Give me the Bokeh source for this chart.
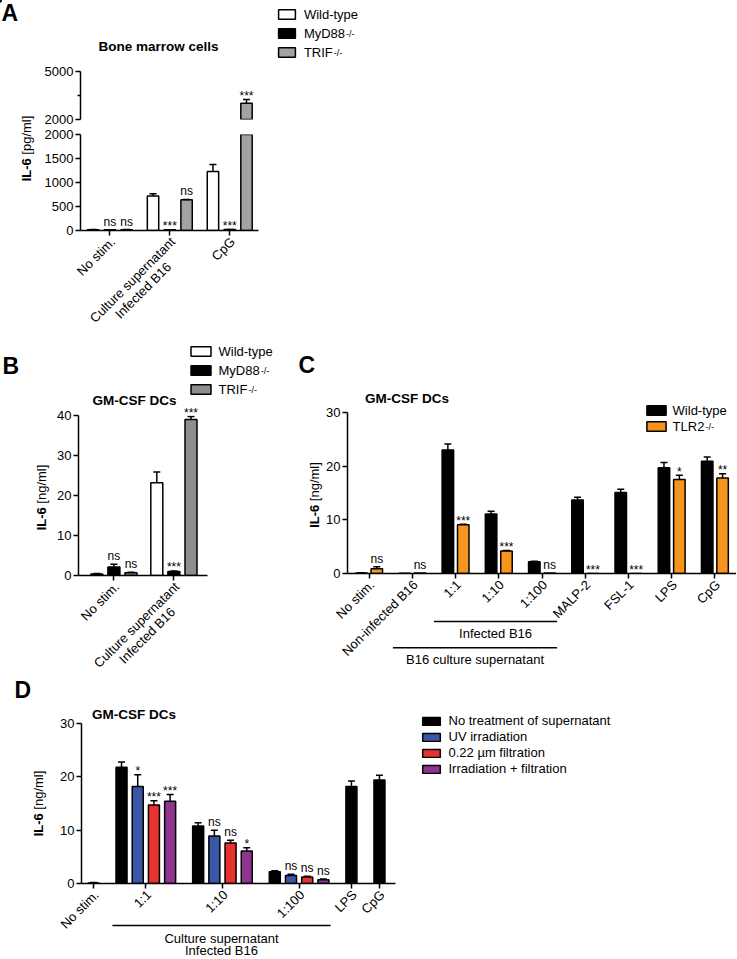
import math
from bokeh.plotting import figure
from bokeh.models import (Range1d, FixedTicker, Label, Legend, LegendItem, Arrow,
                          CustomJSTickFormatter, GridBox)
from bokeh.layouts import column, row
from bokeh.embed import file_html
from bokeh.resources import INLINE

FONT = "Liberation Sans"

# ---------------- data ----------------
# Panel A: bone marrow cells, IL-6 [pg/ml]
A_groups = ["No stim.", "Culture supernatant\nInfected B16", "CpG"]
A_names = ["Wild-type", "MyD88", "TRIF"]
A_wt = [15, 720, 1230]
A_wt_err = [6, 45, 145]
A_myd = [15, 15, 20]
A_myd_err = [3, 3, 3]
A_trif = [15, 640, 3020]
A_trif_err = [4, 6, 230]
A_sig_myd = ["ns", "***", "***"]
A_sig_trif = ["ns", "ns", "***"]
A_ticks_low = [0, 500, 1000, 1500, 2000]
A_ticks_high = [2000, 5000]
A_minor_high = [3500]

# Panel B: GM-CSF DCs, IL-6 [ng/ml]
B_groups = ["No stim.", "Culture supernatant\nInfected B16"]
B_names = ["Wild-type", "MyD88", "TRIF"]
B_wt = [0.4, 23.2]
B_wt_err = [0.1, 2.7]
B_myd = [2.1, 1.0]
B_myd_err = [0.7, 0.15]
B_trif = [0.7, 39.0]
B_trif_err = [0.1, 0.75]
B_sig_myd = ["ns", "***"]
B_sig_trif = ["ns", "***"]
B_ticks = [0, 10, 20, 30, 40]

# Panel C: GM-CSF DCs, wild-type vs TLR2-/-
C_groups = ["No stim.", "Non-infected B16", "1:1", "1:10", "1:100",
            "MALP-2", "FSL-1", "LPS", "CpG"]
C_names = ["Wild-type", "TLR2"]
C_wt = [0.1, 0.05, 23.0, 11.1, 2.2, 13.7, 15.1, 19.7, 20.9]
C_wt_err = [0.05, 0.0, 1.15, 0.5, 0.1, 0.5, 0.6, 1.0, 0.8]
C_tlr2 = [0.9, 0.1, 9.1, 4.2, 0.1, 0.0, 0.0, 17.5, 17.8]
C_tlr2_err = [0.35, 0.0, 0.1, 0.1, 0.0, 0.0, 0.0, 0.8, 0.8]
C_sig = ["ns", "ns", "***", "***", "ns", "***", "***", "*", "**"]
C_ticks = [0, 10, 20, 30]
C_brackets = [("Infected B16", "1:1", "1:100"),
              ("B16 culture supernatant", "Non-infected B16", "1:100")]

# Panel D: supernatant treatments
D_groups = ["No stim.", "1:1", "1:10", "1:100", "LPS", "CpG"]
D_treated = ["1:1", "1:10", "1:100"]
D_names = ["No treatment of supernatant", "UV irradiation",
           "0.22 µm filtration", "Irradiation + filtration"]
D_none = [0.1, 21.8, 10.8, 2.2, 18.2, 19.4]
D_none_err = [0.1, 1.0, 0.6, 0.2, 1.0, 0.9]
D_uv = [18.2, 8.9, 1.5]
D_uv_err = [2.2, 1.1, 0.25]
D_filt = [14.7, 7.6, 1.2]
D_filt_err = [0.8, 0.5, 0.15]
D_both = [15.4, 6.1, 0.7]
D_both_err = [1.3, 0.6, 0.15]
D_sig_uv = ["*", "ns", "ns"]
D_sig_filt = ["***", "ns", "ns"]
D_sig_both = ["***", "*", "ns"]
D_ticks = [0, 10, 20, 30]
D_bracket = ("Culture supernatant", "Infected B16")

# ---------------- helpers ----------------
W_REG = {' ': 278, '-': 333, '.': 278, '/': 278, '[': 278, ']': 278, ':': 278, '+': 584,
         '0': 556, '1': 556, '2': 556, '3': 556, '4': 556, '5': 556, '6': 556, '7': 556,
         '8': 556, '9': 556, 'A': 667, 'B': 667, 'C': 722, 'D': 722, 'E': 667, 'F': 611,
         'G': 778, 'I': 278, 'L': 556, 'M': 833, 'N': 722, 'P': 667, 'R': 722, 'S': 667,
         'T': 611, 'U': 722, 'V': 667, 'W': 944, 'a': 556, 'b': 556, 'c': 500, 'd': 556,
         'e': 556, 'f': 278, 'g': 556, 'h': 556, 'i': 222, 'l': 222, 'm': 833, 'n': 556,
         'o': 556, 'p': 556, 'r': 333, 's': 500, 't': 278, 'u': 556, 'v': 500, 'w': 722,
         'x': 500, 'y': 500, 'µ': 556}
W_BOLD = {'I': 278, 'L': 611, '-': 333, '6': 556, ' ': 278}

PAGE_W, PAGE_H = 736, 958


def text_w(s, size, bold=False):
    tab = W_BOLD if bold else W_REG
    return sum(tab.get(ch, 556) for ch in s) / 1000.0 * size


def style_axis(ax):
    ax.axis_line_width = 1.5
    ax.axis_line_color = "black"
    ax.major_tick_line_width = 1.5
    ax.major_tick_line_color = "black"
    ax.major_tick_out = 5
    ax.major_tick_in = 0
    ax.minor_tick_line_color = None
    ax.major_label_text_font = FONT
    ax.major_label_text_font_size = "13px"
    ax.major_label_text_color = "black"
    ax.major_label_standoff = 2


class Panel:
    """A chart panel; page_x/page_y give its canvas's top-left corner on the page."""
    def __init__(self, page_x, page_y, width, height, left, right, top, bottom, xr, yr,
                 x_axis=True):
        f = figure(width=width, height=height, x_range=Range1d(*xr), y_range=Range1d(*yr),
                   output_backend="svg", toolbar_location=None,
                   x_axis_location=("below" if x_axis else None), y_axis_location="left",
                   min_border_left=left, min_border_right=right,
                   min_border_top=top, min_border_bottom=bottom, frame_align=False)
        f.outline_line_color = None
        f.grid.grid_line_color = None
        f.background_fill_color = "white"
        f.border_fill_color = "white"
        self.fig = f
        self.xr, self.yr = xr, yr
        self.fl = page_x + left
        self.fb = page_y + height - bottom
        self.xppu = (width - left - right) / float(xr[1] - xr[0])
        self.yppu = (height - top - bottom) / float(yr[1] - yr[0])
        for ax in f.yaxis:
            style_axis(ax)
        for ax in f.xaxis:
            style_axis(ax)
            ax.formatter = CustomJSTickFormatter(code="return ''")

    def px(self, x):
        return self.fl + (x - self.xr[0]) * self.xppu

    def py(self, y):
        return self.fb - (y - self.yr[0]) * self.yppu


# transparent full-page figure holding every text, legend and bracket
ov = figure(width=PAGE_W, height=PAGE_H, x_range=Range1d(0, PAGE_W), y_range=Range1d(PAGE_H, 0),
            output_backend="svg", toolbar_location=None, x_axis_location=None,
            y_axis_location=None, min_border=0, min_border_left=0, min_border_right=0,
            min_border_top=0, min_border_bottom=0)
ov.outline_line_color = None
ov.grid.grid_line_color = None
ov.background_fill_color = None
ov.border_fill_color = None


def text(s, px, py, size=13, bold=False, align="center", baseline="middle", angle=0.0):
    ov.add_layout(Label(x=px, y=py, text=s, text_font=FONT, text_font_size="%spx" % size,
                        text_font_style=("bold" if bold else "normal"), text_color="black",
                        text_align=align, text_baseline=baseline, angle=angle))


def hline(px0, px1, py):
    ov.add_layout(Arrow(x_start=px0, y_start=py, x_end=px1, y_end=py, start=None, end=None,
                        line_color="black", line_width=1.5))


def draw_bars(panel, xs, vals, errs, color, width, cap=7, above=None):
    keep = [i for i in range(len(vals)) if above is None or vals[i] > above]
    xs = [xs[i] for i in keep]
    vals = [vals[i] for i in keep]
    errs = [errs[i] for i in keep]
    if not xs:
        return
    f = panel.fig
    f.vbar(x=xs, top=vals, bottom=0, width=width, fill_color=color,
           line_color="black", line_width=1.5)
    ex = [x for x, e in zip(xs, errs) if e > 0]
    ev = [v for v, e in zip(vals, errs) if e > 0]
    et = [v + e for v, e in zip(vals, errs) if e > 0]
    if ex:
        f.segment(x0=ex, y0=ev, x1=ex, y1=et, line_color="black", line_width=1.5)
        f.scatter(x=ex, y=et, marker="dash", size=cap, line_color="black", line_width=1.5)


def sig_label(panel, x, top, s, size=12):
    if not s:
        return
    pad = 8.0 if s == "ns" else 3.5
    text(s, panel.px(x), panel.py(top) - pad, size=size, baseline="alphabetic")


def ylabel(unit, cx, cy, size=13):
    wb = text_w("IL-6", size, True)
    ws = text_w(" ", size)
    wu = text_w(unit, size)
    y0 = cy + (wb + ws + wu) / 2.0
    text("IL-6", cx, y0, size=size, bold=True, align="left", angle=math.pi / 2)
    text(unit, cx, y0 - wb - ws, size=size, align="left", angle=math.pi / 2)


def xlabels(panel, ticks, labels, size=13, dxp=3, dyp=9):
    c = math.sqrt(0.5)
    ay = panel.fb + dyp
    for t, lab in zip(ticks, labels):
        lines = lab.split("\n")
        ax = panel.px(t) + dxp
        text(lines[0], ax, ay, size=size, align="right", angle=math.pi / 4)
        if len(lines) > 1:
            w1 = text_w(lines[0], size)
            cx = ax - w1 / 2.0 * c
            cy = ay + w1 / 2.0 * c
            lh = size * 1.15
            for k, ln in enumerate(lines[1:], start=1):
                text(ln, cx + k * lh * c, cy + k * lh * c, size=size, align="center",
                     angle=math.pi / 4)


def legend(labels, colors, left_px, top_px, gw, gh, lh, spacing, standoff, supers=(), size=13):
    n = len(labels)
    height = n * lh + (n - 1) * spacing
    # legend swatches: one off-canvas proxy bar per entry
    rends = [ov.vbar(x=[-1000], top=[1], bottom=0, width=1, fill_color=c, line_color="black",
                     line_width=1.5) for c in colors]
    lg = Legend(items=[LegendItem(label=l, renderers=[r]) for l, r in zip(labels, rends)],
                location=(left_px, PAGE_H - (top_px + height)),
                orientation="vertical", glyph_width=gw, glyph_height=gh,
                label_height=lh, spacing=spacing, padding=0, margin=0,
                label_standoff=standoff, border_line_color=None, background_fill_alpha=0,
                label_text_font=FONT, label_text_font_size="%dpx" % size,
                label_text_color="black")
    ov.add_layout(lg)
    tx = left_px + gw + standoff
    for k in supers:
        cy = top_px + lh / 2.0 + k * (lh + spacing)
        text("-/-", tx + text_w(labels[k], size) + 0.5, cy + 0.5, size=9,
             align="left", baseline="alphabetic")


# ---------------- Panel A ----------------
pA_hi = Panel(0, 0, PAGE_W, 126, 80, PAGE_W - 258, 71, 7, (-0.49, 2.48), (2000, 5000),
              x_axis=False)
pA_lo = Panel(0, 126, PAGE_W, 212, 80, PAGE_W - 258, 8, 108, (-0.49, 2.48), (0, 2000))

A_x = [float(i) for i in range(len(A_groups))]
A_off = [-0.28, 0.0, 0.28]
A_colors = ["white", "black", "#a3a3a3"]
A_series = [(A_wt, A_wt_err), (A_myd, A_myd_err), (A_trif, A_trif_err)]
A_break = A_ticks_high[0]
for k, (vals, errs) in enumerate(A_series):
    xs = [x + A_off[k] for x in A_x]
    draw_bars(pA_hi, xs, vals, errs, A_colors[k], 0.19, above=A_break)
    draw_bars(pA_lo, xs, vals, errs, A_colors[k], 0.19)
for k, sigs in ((1, A_sig_myd), (2, A_sig_trif)):
    vals, errs = A_series[k]
    for i, s in enumerate(sigs):
        top = vals[i] + errs[i]
        p = pA_hi if top > A_break else pA_lo
        sig_label(p, A_x[i] + A_off[k], top, s)

pA_hi.fig.yaxis.ticker = FixedTicker(ticks=A_ticks_high, minor_ticks=A_minor_high)
pA_hi.fig.yaxis.minor_tick_line_color = "black"
pA_hi.fig.yaxis.minor_tick_line_width = 1.5
pA_hi.fig.yaxis.minor_tick_out = 3
pA_hi.fig.yaxis.minor_tick_in = 0
pA_lo.fig.yaxis.ticker = FixedTicker(ticks=A_ticks_low)
pA_lo.fig.xaxis.ticker = FixedTicker(ticks=A_x)
xlabels(pA_lo, A_x, A_groups)

text("A", 1, 12, size=23, bold=True, align="left")
ylabel("[pg/ml]", 26, 148)
text("Bone marrow cells", 158, 46, size=13.5, bold=True)
legend(A_names, A_colors, 275.9, 6, 21, 12, 16, 3, 7, supers=(1, 2))

# ---------------- Panel B ----------------
pB = Panel(0, 338, 295, 332, 78, 88, 77, 95, (-0.59, 1.56), (0, 40))
B_x = [float(i) for i in range(len(B_groups))]
B_off = [-0.285, 0.0, 0.285]
B_colors = ["white", "black", "#8e8e8e"]
B_series = [(B_wt, B_wt_err), (B_myd, B_myd_err), (B_trif, B_trif_err)]
for k, (vals, errs) in enumerate(B_series):
    draw_bars(pB, [x + B_off[k] for x in B_x], vals, errs, B_colors[k], 0.2)
for k, sigs in ((1, B_sig_myd), (2, B_sig_trif)):
    vals, errs = B_series[k]
    for i, s in enumerate(sigs):
        sig_label(pB, B_x[i] + B_off[k], vals[i] + errs[i], s)
pB.fig.yaxis.ticker = FixedTicker(ticks=B_ticks)
pB.fig.xaxis.ticker = FixedTicker(ticks=B_x)
xlabels(pB, B_x, B_groups)
text("B", 2, 365, size=23, bold=True, align="left")
ylabel("[ng/ml]", 41, 497)
text("GM-CSF DCs", 134, 400, size=13.5, bold=True)
legend(B_names, B_colors, 187.5, 343, 25, 12, 16, 3, 6, supers=(1, 2))

# ---------------- Panel C ----------------
pC = Panel(295, 338, PAGE_W - 295, 332, 52, 0, 74, 97, (-0.5, 8.5), (0, 30))
C_x = [float(i) for i in range(len(C_groups))]
C_off = [-0.178, 0.178]
C_colors = ["black", "#f7941d"]
draw_bars(pC, [x + C_off[0] for x in C_x], C_wt, C_wt_err, C_colors[0], 0.266)
draw_bars(pC, [x + C_off[1] for x in C_x], C_tlr2, C_tlr2_err, C_colors[1], 0.266)
for i, s in enumerate(C_sig):
    sig_label(pC, C_x[i] + C_off[1], C_tlr2[i] + C_tlr2_err[i], s)
pC.fig.yaxis.ticker = FixedTicker(ticks=C_ticks)
pC.fig.xaxis.ticker = FixedTicker(ticks=C_x)
xlabels(pC, C_x, C_groups)
text("C", 298, 364.5, size=23, bold=True, align="left")
ylabel("[ng/ml]", 314, 494.5)
text("GM-CSF DCs", 406.5, 398, size=13.5, bold=True)
legend(C_names, C_colors, 643.6, 402.5, 24, 12, 15, 1, 5, supers=(1,))
for (lab, g0, g1), ly in zip(C_brackets, (621, 647.3)):
    x0 = C_groups.index(g0) - (0.5 if g0 == "1:1" else 0.45)
    x1 = C_groups.index(g1) + 0.35
    hline(pC.px(x0), pC.px(x1), ly)
    text(lab, pC.px((x0 + x1) / 2.0), ly + 11.5, size=13)

# ---------------- Panel D ----------------
pD = Panel(0, 670, PAGE_W, PAGE_H - 670, 81, PAGE_W - 395, 53, PAGE_H - 883,
           (-0.74, 18.64), (0, 30))
GAP = 1.73
pos = 0.0
D_centers = []
D_slots = []
for gi, g in enumerate(D_groups):
    n = len(D_names) if g in D_treated else 1
    if gi > 0:
        pos += GAP
    xs = [pos + k for k in range(n)]
    pos = xs[-1]
    D_slots.append(xs)
    D_centers.append(sum(xs) / len(xs))

D_colors = ["black", "#3a57a5", "#e8322b", "#8e3590"]
draw_bars(pD, [s[0] for s in D_slots], D_none, D_none_err, D_colors[0], 0.68)
t_idx = [D_groups.index(g) for g in D_treated]
for k, (vals, errs, sigs) in enumerate(((D_uv, D_uv_err, D_sig_uv),
                                        (D_filt, D_filt_err, D_sig_filt),
                                        (D_both, D_both_err, D_sig_both)), start=1):
    xs = [D_slots[i][k] for i in t_idx]
    draw_bars(pD, xs, vals, errs, D_colors[k], 0.68)
    for x, v, e, s in zip(xs, vals, errs, sigs):
        sig_label(pD, x, v + e, s)
pD.fig.yaxis.ticker = FixedTicker(ticks=D_ticks)
pD.fig.xaxis.ticker = FixedTicker(ticks=D_centers)
xlabels(pD, D_centers, D_groups)
text("D", 14, 689.5, size=23, bold=True, align="left")
ylabel("[ng/ml]", 38, 803)
text("GM-CSF DCs", 133.5, 714, size=13.5, bold=True)
legend(D_names, D_colors, 419.5, 713, 22, 10, 15, 1, 7)
bx0 = D_slots[t_idx[0]][0] - 0.56
bx1 = D_slots[t_idx[-1]][-1] + 0.44
hline(pD.px(bx0), pD.px(bx1), 925)
text(D_bracket[0], pD.px((bx0 + bx1) / 2.0), 937.5, size=13)
text(D_bracket[1], pD.px((bx0 + bx1) / 2.0), 949.5, size=13)

panels = column(pA_hi.fig, pA_lo.fig, row(pB.fig, pC.fig), pD.fig)
page = GridBox(children=[(panels, 0, 0), (ov, 0, 0)])

open("out.html", "w").write(file_html(page, INLINE))
